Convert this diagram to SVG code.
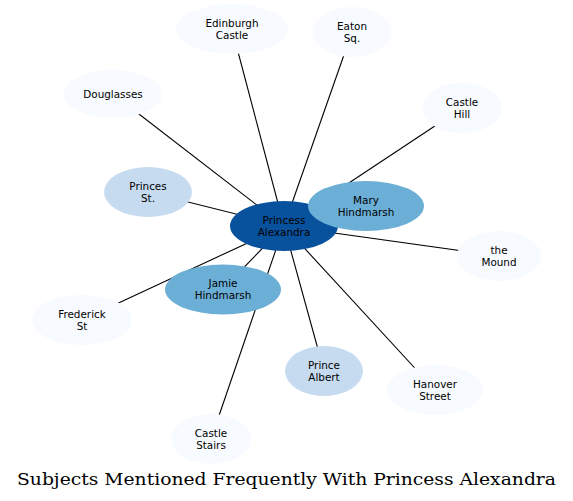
<svg xmlns="http://www.w3.org/2000/svg" width="573" height="501" viewBox="0 0 573 501">
<style>
.e{stroke:#000;stroke-width:1.1;fill:none}
.n text{font-family:"DejaVu Sans",sans-serif;font-size:10.4px;text-anchor:middle;fill:#000}
.l0{fill:#f7fbff}
.l1{fill:#c6dbef}
.l2{fill:#6baed6}
.l3{fill:#08519c}
.t{font-family:"DejaVu Serif",serif;font-size:17.5px;text-anchor:middle;fill:#000}
</style>
<rect width="573" height="501" fill="#fff"/>
<g id="edges">
<line class="e" x1="284" y1="226" x2="232" y2="29"/>
<line class="e" x1="284" y1="226" x2="352" y2="32"/>
<line class="e" x1="284" y1="226" x2="113" y2="94"/>
<line class="e" x1="284" y1="226" x2="462" y2="108"/>
<line class="e" x1="284" y1="226" x2="148" y2="192"/>
<line class="e" x1="284" y1="226" x2="366" y2="206"/>
<line class="e" x1="284" y1="226" x2="499" y2="256"/>
<line class="e" x1="284" y1="226" x2="82" y2="320"/>
<line class="e" x1="284" y1="226" x2="223" y2="289"/>
<line class="e" x1="284" y1="226" x2="324" y2="371"/>
<line class="e" x1="284" y1="226" x2="435" y2="390"/>
<line class="e" x1="284" y1="226" x2="211" y2="439"/>
</g>
<g id="edinburgh-castle" class="n"><ellipse class="l0" cx="232" cy="29" rx="56" ry="25"/><text x="232" y="26.5">Edinburgh</text><text x="232" y="38.5">Castle</text></g>
<g id="eaton-sq" class="n"><ellipse class="l0" cx="352" cy="32" rx="39" ry="25"/><text x="352" y="29.5">Eaton</text><text x="352" y="41.5">Sq.</text></g>
<g id="douglasses" class="n"><ellipse class="l0" cx="113" cy="94" rx="49" ry="24"/><text x="113" y="97.5">Douglasses</text></g>
<g id="castle-hill" class="n"><ellipse class="l0" cx="462" cy="108" rx="40" ry="25"/><text x="462" y="105.5">Castle</text><text x="462" y="117.5">Hill</text></g>
<g id="princes-st" class="n"><ellipse class="l1" cx="148" cy="192" rx="44" ry="25"/><text x="148" y="189.5">Princes</text><text x="148" y="201.5">St.</text></g>
<g id="the-mound" class="n"><ellipse class="l0" cx="499" cy="256" rx="42" ry="25"/><text x="499" y="253.5">the</text><text x="499" y="265.5">Mound</text></g>
<g id="frederick-st" class="n"><ellipse class="l0" cx="82" cy="320" rx="50" ry="25"/><text x="82" y="317.5">Frederick</text><text x="82" y="329.5">St</text></g>
<g id="princess-alexandra" class="n"><ellipse class="l3" cx="284" cy="226" rx="54" ry="25"/><text x="284" y="223.5">Princess</text><text x="284" y="235.5">Alexandra</text></g>
<g id="mary-hindmarsh" class="n"><ellipse class="l2" cx="366" cy="206" rx="58" ry="25"/><text x="366" y="203.5">Mary</text><text x="366" y="215.5">Hindmarsh</text></g>
<g id="jamie-hindmarsh" class="n"><ellipse class="l2" cx="223" cy="289.5" rx="58" ry="25"/><text x="223" y="287">Jamie</text><text x="223" y="299">Hindmarsh</text></g>
<g id="prince-albert" class="n"><ellipse class="l1" cx="324" cy="371" rx="39" ry="25"/><text x="324" y="368.5">Prince</text><text x="324" y="380.5">Albert</text></g>
<g id="hanover-street" class="n"><ellipse class="l0" cx="435" cy="390" rx="48" ry="25"/><text x="435" y="387.5">Hanover</text><text x="435" y="399.5">Street</text></g>
<g id="castle-stairs" class="n"><ellipse class="l0" cx="211" cy="439" rx="40" ry="25"/><text x="211" y="436.5">Castle</text><text x="211" y="448.5">Stairs</text></g>
<text class="t" x="286.5" y="484.5" textLength="539" lengthAdjust="spacingAndGlyphs">Subjects Mentioned Frequently With Princess Alexandra</text>
</svg>
